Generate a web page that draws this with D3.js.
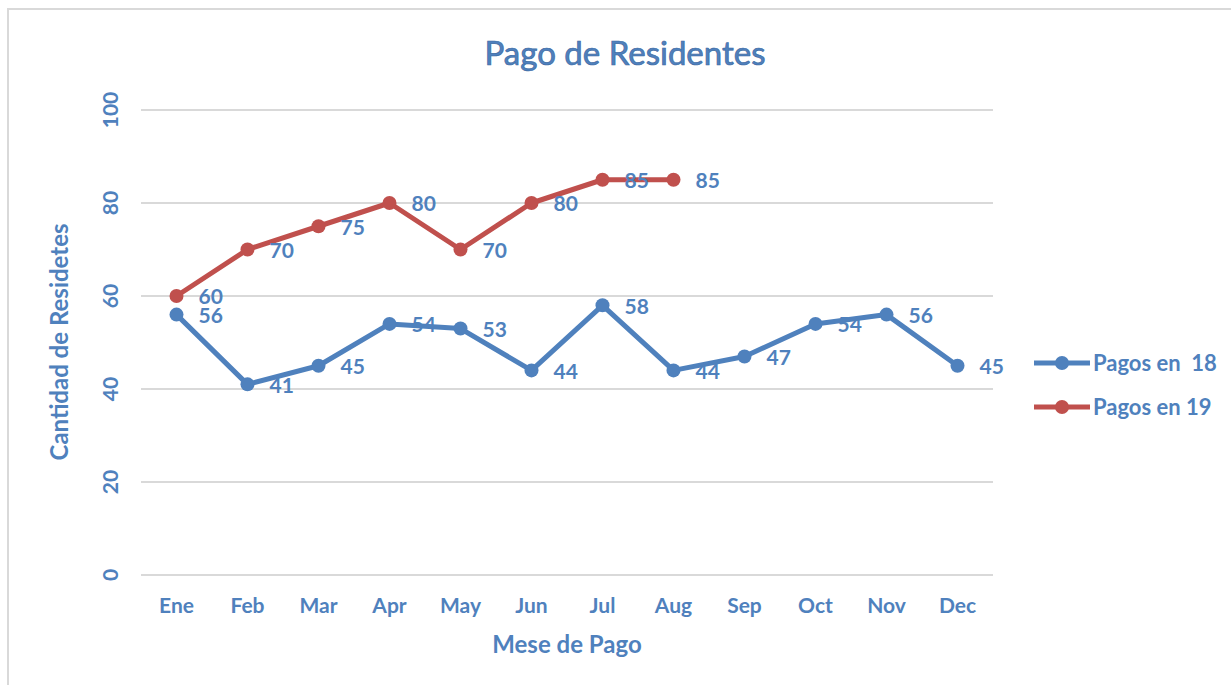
<!DOCTYPE html>
<html>
<head>
<meta charset="utf-8">
<script src="https://cdn.jsdelivr.net/npm/d3@7"></script>
<style>
  html, body { margin: 0; padding: 0; background: #fff; }
  svg { display: block; }
  text { font-family: Lato, "Open Sans", sans-serif; font-weight: 700; }
</style>
</head>
<body>
<svg id="chart" width="1231" height="685"></svg>
<script>
// Monthly resident payments
const months = ["Ene", "Feb", "Mar", "Apr", "May", "Jun", "Jul", "Aug", "Sep", "Oct", "Nov", "Dec"];
const pagos18 = [56, 41, 45, 54, 53, 44, 58, 44, 47, 54, 56, 45];
const pagos19 = [60, 70, 75, 80, 70, 80, 85, 85];
const seriesNames = ["Pagos en  18", "Pagos en 19"];
const yTicks = [0, 20, 40, 60, 80, 100];

const blue = "#4F81BD";
const red = "#C0504D";
const textBlue = "#4F81BD";

const svg = d3.select("#chart");

// Outer frame (only top and left edges visible)
svg.append("path")
  .attr("d", "M8,700 L8,9 L1240,9")
  .attr("fill", "none")
  .attr("stroke", "#d9d9d9")
  .attr("stroke-width", 2);

const plot = { left: 141, right: 993, top: 110, bottom: 575 };

const x = d3.scaleBand().domain(months).range([plot.left, plot.right]);
const xc = m => x(m) + x.bandwidth() / 2;
const y = d3.scaleLinear().domain([0, 100]).range([plot.bottom, plot.top]);

// Horizontal gridlines
svg.append("g").selectAll("line").data(yTicks).join("line")
  .attr("x1", plot.left).attr("x2", plot.right)
  .attr("y1", d => y(d)).attr("y2", d => y(d))
  .attr("stroke", "#d9d9d9").attr("stroke-width", 2);

// Y tick labels (rotated)
svg.append("g").selectAll("text").data(yTicks).join("text")
  .attr("transform", d => `translate(111,${y(d)}) rotate(-90)`)
  .attr("text-anchor", "middle")
  .attr("dy", "0.35em")
  .attr("font-size", 21)
  .attr("fill", textBlue)
  .text(d => d);

// X tick labels
svg.append("g").selectAll("text").data(months).join("text")
  .attr("x", d => xc(d)).attr("y", 606)
  .attr("text-anchor", "middle")
  .attr("dy", "0.35em")
  .attr("font-size", 21)
  .attr("fill", textBlue)
  .text(d => d);

// Title and axis titles
svg.append("text")
  .attr("x", 625).attr("y", 53)
  .attr("text-anchor", "middle").attr("dy", "0.35em")
  .attr("font-size", 33)
  .style("font-weight", 400)
  .attr("fill", textBlue).attr("stroke", "#3d6aa3").attr("stroke-width", 0.7)
  .text("Pago de Residentes");

svg.append("text")
  .attr("x", 567).attr("y", 645)
  .attr("text-anchor", "middle").attr("dy", "0.35em")
  .attr("font-size", 24)
  .attr("fill", textBlue)
  .text("Mese de Pago");

svg.append("text")
  .attr("transform", "translate(60,342) rotate(-90)")
  .attr("text-anchor", "middle").attr("dy", "0.35em")
  .attr("font-size", 24)
  .attr("fill", textBlue)
  .text("Cantidad de Residetes");

const line = d3.line().x(d => xc(d.m)).y(d => y(d.v));

function drawSeries(values, color) {
  const pts = values.map((v, i) => ({ m: months[i], v }));
  const g = svg.append("g");
  g.append("path").datum(pts)
    .attr("d", line)
    .attr("fill", "none")
    .attr("stroke", color)
    .attr("stroke-width", 5)
    .attr("stroke-linejoin", "round");
  g.selectAll("circle").data(pts).join("circle")
    .attr("cx", d => xc(d.m)).attr("cy", d => y(d.v))
    .attr("r", 7).attr("fill", color);
  return pts;
}

const p18 = drawSeries(pagos18, blue);
const p19 = drawSeries(pagos19, red);

// Data labels to the right of each point
const labels = svg.append("g");
[p18, p19].forEach(pts => {
  labels.selectAll(null).data(pts).join("text")
    .attr("x", d => xc(d.m) + 22).attr("y", d => y(d.v) + 1)
    .attr("dy", "0.35em")
    .attr("font-size", 21)
    .attr("fill", textBlue)
    .text(d => d.v);
});

// Legend
const legend = svg.append("g");
[[blue, 363], [red, 407]].forEach(([color, ly], i) => {
  legend.append("line")
    .attr("x1", 1034).attr("x2", 1090).attr("y1", ly).attr("y2", ly)
    .attr("stroke", color).attr("stroke-width", 5);
  legend.append("circle").attr("cx", 1062).attr("cy", ly).attr("r", 7).attr("fill", color);
  legend.append("text")
    .attr("x", 1093).attr("y", ly).attr("dy", "0.35em")
    .attr("font-size", 22).attr("fill", textBlue)
    .attr("xml:space", "preserve")
    .style("white-space", "pre")
    .text(seriesNames[i]);
});
</script>
</body>
</html>
